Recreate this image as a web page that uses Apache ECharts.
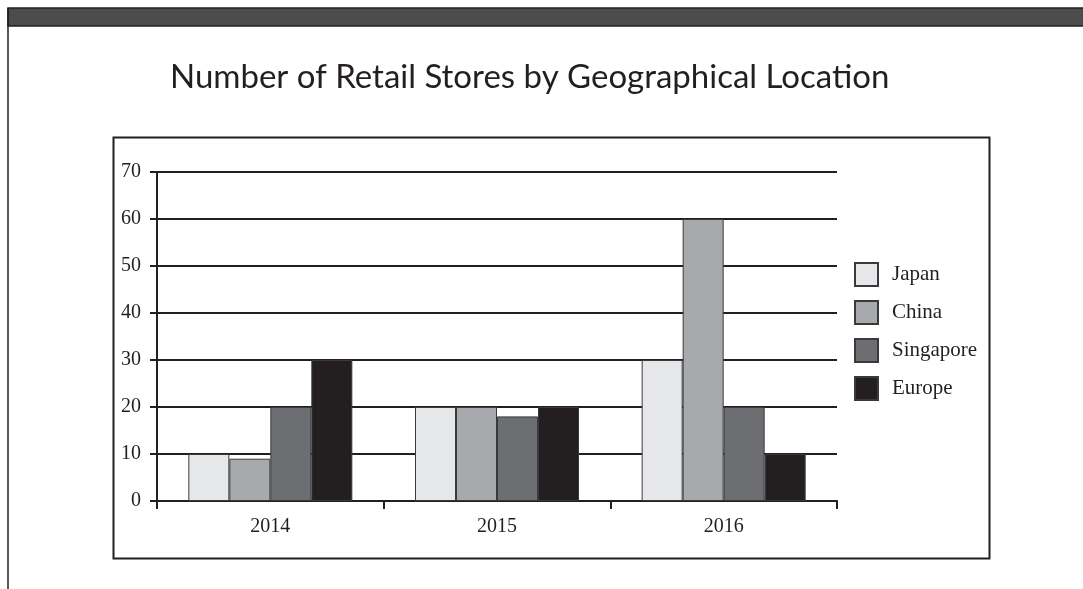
<!DOCTYPE html>
<html>
<head>
<meta charset="utf-8">
<script src="https://cdn.jsdelivr.net/npm/echarts@6/dist/echarts.min.js"></script>
<style>
html, body { margin: 0; padding: 0; background: #fff; }
#chart { width: 1083px; height: 589px; }
</style>
</head>
<body>
<div id="chart"></div>
<script>
// data
var years = ['2014', '2015', '2016'];
var japan = [10, 20, 30];
var china = [9, 20, 60];
var singapore = [20, 18, 20];
var europe = [30, 20, 10];

var seriesNames = ['Japan', 'China', 'Singapore', 'Europe'];
var seriesColors = ['#e6e7e8', '#a7a9ac', '#6d6e71', '#231f20'];
var seriesData = [japan, china, singapore, europe];

var myChart = echarts.init(document.getElementById('chart'));
var serif = '"Liberation Serif", "DejaVu Serif", serif';

var series = seriesData.map(function (d, i) {
    return {
        name: seriesNames[i],
        type: 'bar',
        barWidth: 41,
        barGap: '0%',
        itemStyle: {
            color: seriesColors[i],
            borderColor: '#3a3a3c',
            borderWidth: 1
        },
        data: d
    };
});

var option = {
    backgroundColor: '#fff',
    animation: false,
    title: {
        text: 'Number of Retail Stores by Geographical Location',
        left: 165,
        top: 56,
        textStyle: {
            fontFamily: 'Lato',
            fontWeight: 'normal',
            fontSize: 33,
            color: '#231f20'
        }
    },
    // page frame: dark strip on top, thin left rule, box round the chart
    graphic: [
        { type: 'rect', shape: { x: 8, y: 8, width: 1080, height: 18 },
          style: { fill: '#4b4c4e', stroke: '#231f20', lineWidth: 1.5 } },
        { type: 'line', shape: { x1: 8, y1: 8, x2: 8, y2: 589 },
          style: { stroke: '#231f20', lineWidth: 1.5 } },
        { type: 'rect', shape: { x: 113.5, y: 137.5, width: 876, height: 421 },
          style: { fill: 'none', stroke: '#231f20', lineWidth: 2 } }
    ],
    legend: {
        orient: 'vertical',
        left: 854,
        top: 262,
        padding: 0,
        itemWidth: 23,
        itemHeight: 23,
        itemGap: 13,
        icon: 'rect',
        textStyle: { fontFamily: serif, fontSize: 21, color: '#231f20', padding: [0, 0, 0, 9] },
        data: seriesNames
    },
    grid: {
        left: 157,
        right: 246,
        top: 172,
        bottom: 88,
        containLabel: false
    },
    xAxis: {
        type: 'category',
        data: years,
        axisLine: { lineStyle: { color: '#231f20', width: 2 } },
        axisTick: { show: true, length: 8, lineStyle: { color: '#231f20', width: 2 } },
        axisLabel: { fontFamily: serif, fontSize: 20, color: '#231f20', margin: 16 }
    },
    yAxis: {
        type: 'value',
        min: 0,
        max: 70,
        interval: 10,
        axisLine: { show: true, lineStyle: { color: '#231f20', width: 2 } },
        axisTick: { show: true, length: 7, lineStyle: { color: '#231f20', width: 2 } },
        axisLabel: { fontFamily: serif, fontSize: 20, color: '#231f20', margin: 16 },
        splitLine: { lineStyle: { color: '#231f20', width: 2 } }
    },
    series: series
};

option && myChart.setOption(option);
</script>
</body>
</html>
